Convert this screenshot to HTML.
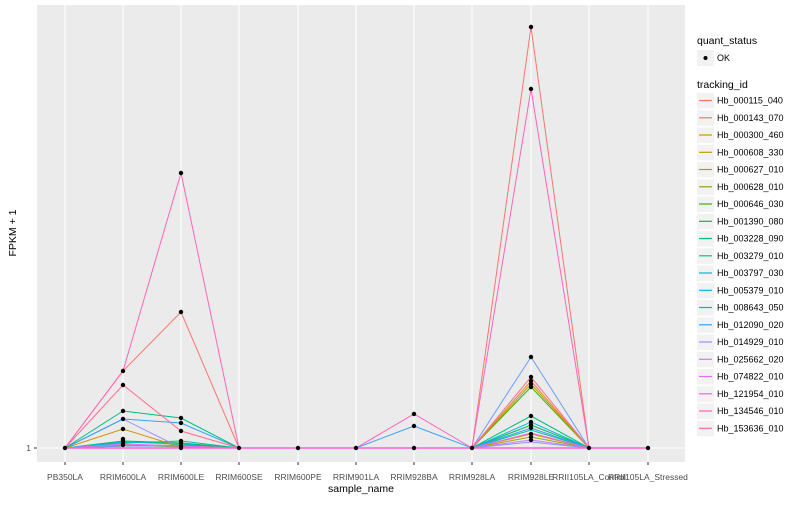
<!DOCTYPE html>
<html><head><meta charset="utf-8"><style>
body{margin:0;background:#fff;}
svg text{font-family:"Liberation Sans",sans-serif;}
</style></head><body>
<svg width="800" height="500" xmlns="http://www.w3.org/2000/svg">
<rect x="0" y="0" width="800" height="500" fill="#fff"/>
<rect x="37" y="5" width="648" height="457" fill="#EBEBEB"/>
<g stroke="#fff" stroke-width="1.1">
<line x1="37" x2="685" y1="448" y2="448"/>
<line x1="65" x2="65" y1="5" y2="462"/><line x1="123" x2="123" y1="5" y2="462"/><line x1="181" x2="181" y1="5" y2="462"/><line x1="239" x2="239" y1="5" y2="462"/><line x1="298" x2="298" y1="5" y2="462"/><line x1="356" x2="356" y1="5" y2="462"/><line x1="414" x2="414" y1="5" y2="462"/><line x1="472" x2="472" y1="5" y2="462"/><line x1="531" x2="531" y1="5" y2="462"/><line x1="589" x2="589" y1="5" y2="462"/><line x1="648" x2="648" y1="5" y2="462"/>
</g>
<g fill="none" stroke-width="1">
<polyline stroke="#00C1A3" points="65,448 123,443 181,441 239,448 298,448 356,448 414,448 472,448 531,430 589,448 648,448"/>
<polyline stroke="#A3A500" points="65,448 123,445 181,447 239,448 298,448 356,448 414,448 472,448 531,437 589,448 648,448"/>
<polyline stroke="#00BB4E" points="65,448 123,441 181,443 239,448 298,448 356,448 414,448 472,448 531,425 589,448 648,448"/>
<polyline stroke="#C77CFF" points="65,448 123,446 181,446 239,448 298,448 356,448 414,448 472,448 531,440 589,448 648,448"/>
<polyline stroke="#00BAE0" points="65,448 123,442 181,444 239,448 298,448 356,448 414,448 472,448 531,422 589,448 648,448"/>
<polyline stroke="#D89000" points="65,448 123,429 181,447 239,448 298,448 356,448 414,448 472,448 531,434 589,448 648,448"/>
<polyline stroke="#9590FF" points="65,448 123,419 181,448 239,448 298,448 356,448 414,448 472,448 531,442 589,448 648,448"/>
<polyline stroke="#35A2FF" points="65,448 123,419 181,423 239,448 298,448 356,448 414,426 472,448 531,428 589,448 648,448"/>
<polyline stroke="#00BF7D" points="65,448 123,411 181,418 239,448 298,448 356,448 414,448 472,448 531,416 589,448 648,448"/>
<polyline stroke="#39B600" points="65,448 123,446 181,445 239,448 298,448 356,448 414,448 472,448 531,387 589,448 648,448"/>
<polyline stroke="#C09B00" points="65,448 123,446 181,446 239,448 298,448 356,448 414,448 472,448 531,384 589,448 648,448"/>
<polyline stroke="#EA8331" points="65,448 123,446 181,446 239,448 298,448 356,448 414,448 472,448 531,381 589,448 648,448"/>
<polyline stroke="#6F9BFF" points="65,448 123,446 181,446 239,448 298,448 356,448 414,448 472,448 531,357 589,448 648,448"/>
<polyline stroke="#FF6C91" points="65,448 123,385 181,431 239,448 298,448 356,448 414,448 472,448 531,377 589,448 648,448"/>
<polyline stroke="#E76BF3" points="65,448 123,444 181,446 239,448 298,448 356,448 414,448 472,448 531,433 589,448 648,448"/>
<polyline stroke="#F8766D" points="65,448 123,371 181,312 239,448 298,448 356,448 414,448 472,448 531,27 589,448 648,448"/>
<polyline stroke="#FF62BC" points="65,448 123,371 181,173 239,448 298,448 356,448 414,414 472,448 531,89 589,448 648,448"/>
<polyline stroke="#FA62DB" stroke-width="1.5" points="65,448 239,448 298,448 356,448 472,448 589,448 648,448"/>
</g>
<g fill="#000">
<circle cx="65" cy="448" r="2.2"/><circle cx="239" cy="448" r="2.2"/><circle cx="298" cy="448" r="2.2"/><circle cx="356" cy="448" r="2.2"/><circle cx="472" cy="448" r="2.2"/><circle cx="589" cy="448" r="2.2"/><circle cx="648" cy="448" r="2.2"/><circle cx="414" cy="448" r="2.2"/>
<circle cx="123" cy="371" r="2.2"/><circle cx="123" cy="385" r="2.2"/><circle cx="123" cy="411" r="2.2"/><circle cx="123" cy="419" r="2.2"/><circle cx="123" cy="429" r="2.2"/><circle cx="123" cy="439" r="2.2"/><circle cx="123" cy="441" r="2.2"/><circle cx="123" cy="443" r="2.2"/><circle cx="123" cy="445" r="2.2"/>
<circle cx="181" cy="173" r="2.2"/><circle cx="181" cy="312" r="2.2"/><circle cx="181" cy="418" r="2.2"/><circle cx="181" cy="423" r="2.2"/><circle cx="181" cy="431" r="2.2"/><circle cx="181" cy="441" r="2.2"/><circle cx="181" cy="443" r="2.2"/><circle cx="181" cy="446" r="2.2"/><circle cx="181" cy="448" r="2.2"/>
<circle cx="414" cy="414" r="2.2"/><circle cx="414" cy="426" r="2.2"/>
<circle cx="531" cy="27" r="2.2"/><circle cx="531" cy="89" r="2.2"/><circle cx="531" cy="357" r="2.2"/><circle cx="531" cy="377" r="2.2"/><circle cx="531" cy="381" r="2.2"/><circle cx="531" cy="384" r="2.2"/><circle cx="531" cy="387" r="2.2"/><circle cx="531" cy="416" r="2.2"/><circle cx="531" cy="422" r="2.2"/><circle cx="531" cy="425" r="2.2"/><circle cx="531" cy="428" r="2.2"/><circle cx="531" cy="434" r="2.2"/><circle cx="531" cy="437" r="2.2"/><circle cx="531" cy="440" r="2.2"/>
</g>
<g stroke="#333" stroke-width="1"><line x1="34" x2="37" y1="448" y2="448"/>
<line x1="65" x2="65" y1="462" y2="465"/><line x1="123" x2="123" y1="462" y2="465"/><line x1="181" x2="181" y1="462" y2="465"/><line x1="239" x2="239" y1="462" y2="465"/><line x1="298" x2="298" y1="462" y2="465"/><line x1="356" x2="356" y1="462" y2="465"/><line x1="414" x2="414" y1="462" y2="465"/><line x1="472" x2="472" y1="462" y2="465"/><line x1="531" x2="531" y1="462" y2="465"/><line x1="589" x2="589" y1="462" y2="465"/><line x1="648" x2="648" y1="462" y2="465"/></g>
<text x="31" y="451" font-size="8.5" fill="#4D4D4D" text-anchor="end">1</text>
<g font-size="8.5" fill="#4D4D4D" text-anchor="middle">
<text x="65" y="480">PB350LA</text><text x="123" y="480">RRIM600LA</text><text x="181" y="480">RRIM600LE</text><text x="239" y="480">RRIM600SE</text><text x="298" y="480">RRIM600PE</text><text x="356" y="480">RRIM901LA</text><text x="414" y="480">RRIM928BA</text><text x="472" y="480">RRIM928LA</text><text x="531" y="480">RRIM928LE</text><text x="589" y="480">RRII105LA_Control</text><text x="648" y="480">RRII105LA_Stressed</text>
</g>
<text x="361" y="492" font-size="10.5" text-anchor="middle" fill="#000">sample_name</text>
<text x="16" y="233" font-size="10.5" text-anchor="middle" fill="#000" transform="rotate(-90 16 233)">FPKM + 1</text>
<text x="697" y="44" font-size="10.5" fill="#000">quant_status</text>
<rect x="697" y="50" width="17" height="16" fill="#F2F2F2"/><circle cx="705.5" cy="58" r="2" fill="#000"/>
<text x="717" y="61" font-size="9" fill="#000">OK</text>
<text x="697" y="88" font-size="10.5" fill="#000">tracking_id</text>
<g fill="#F2F2F2">
<rect x="697" y="93" width="17" height="15.5"/><rect x="697" y="110.3" width="17" height="15.5"/><rect x="697" y="127.5" width="17" height="15.5"/><rect x="697" y="144.8" width="17" height="15.5"/><rect x="697" y="162" width="17" height="15.5"/><rect x="697" y="179.3" width="17" height="15.5"/><rect x="697" y="196.5" width="17" height="15.5"/><rect x="697" y="213.8" width="17" height="15.5"/><rect x="697" y="231" width="17" height="15.5"/><rect x="697" y="248.3" width="17" height="15.5"/><rect x="697" y="265.5" width="17" height="15.5"/><rect x="697" y="282.8" width="17" height="15.5"/><rect x="697" y="300" width="17" height="15.5"/><rect x="697" y="317.3" width="17" height="15.5"/><rect x="697" y="334.5" width="17" height="15.5"/><rect x="697" y="351.8" width="17" height="15.5"/><rect x="697" y="369" width="17" height="15.5"/><rect x="697" y="386.3" width="17" height="15.5"/><rect x="697" y="403.5" width="17" height="15.5"/><rect x="697" y="420.8" width="17" height="15.5"/>
</g>
<g font-size="9" fill="#000">
<g stroke-width="1.2">
<line x1="699" x2="712" y1="100.5" y2="100.5" stroke="#F8766D"/><line x1="699" x2="712" y1="117.8" y2="117.8" stroke="#EA8331"/><line x1="699" x2="712" y1="135" y2="135" stroke="#D89000"/><line x1="699" x2="712" y1="152.3" y2="152.3" stroke="#C09B00"/><line x1="699" x2="712" y1="169.5" y2="169.5" stroke="#A3A500"/><line x1="699" x2="712" y1="186.8" y2="186.8" stroke="#7CAE00"/><line x1="699" x2="712" y1="204" y2="204" stroke="#39B600"/><line x1="699" x2="712" y1="221.3" y2="221.3" stroke="#00BB4E"/><line x1="699" x2="712" y1="238.5" y2="238.5" stroke="#00BF7D"/><line x1="699" x2="712" y1="255.8" y2="255.8" stroke="#00C1A3"/><line x1="699" x2="712" y1="273" y2="273" stroke="#00BFC4"/><line x1="699" x2="712" y1="290.3" y2="290.3" stroke="#00BAE0"/><line x1="699" x2="712" y1="307.5" y2="307.5" stroke="#00B0F6"/><line x1="699" x2="712" y1="324.8" y2="324.8" stroke="#35A2FF"/><line x1="699" x2="712" y1="342" y2="342" stroke="#9590FF"/><line x1="699" x2="712" y1="359.3" y2="359.3" stroke="#C77CFF"/><line x1="699" x2="712" y1="376.5" y2="376.5" stroke="#E76BF3"/><line x1="699" x2="712" y1="393.8" y2="393.8" stroke="#FA62DB"/><line x1="699" x2="712" y1="411" y2="411" stroke="#FF62BC"/><line x1="699" x2="712" y1="428.3" y2="428.3" stroke="#FF6C91"/>
</g>
<text x="717" y="103.5">Hb_000115_040</text><text x="717" y="120.8">Hb_000143_070</text><text x="717" y="138">Hb_000300_460</text><text x="717" y="155.3">Hb_000608_330</text><text x="717" y="172.5">Hb_000627_010</text><text x="717" y="189.8">Hb_000628_010</text><text x="717" y="207">Hb_000646_030</text><text x="717" y="224.3">Hb_001390_080</text><text x="717" y="241.5">Hb_003228_090</text><text x="717" y="258.8">Hb_003279_010</text><text x="717" y="276">Hb_003797_030</text><text x="717" y="293.3">Hb_005379_010</text><text x="717" y="310.5">Hb_008643_050</text><text x="717" y="327.8">Hb_012090_020</text><text x="717" y="345">Hb_014929_010</text><text x="717" y="362.3">Hb_025662_020</text><text x="717" y="379.5">Hb_074822_010</text><text x="717" y="396.8">Hb_121954_010</text><text x="717" y="414">Hb_134546_010</text><text x="717" y="431.3">Hb_153636_010</text>
</g>
</svg>
</body></html>
